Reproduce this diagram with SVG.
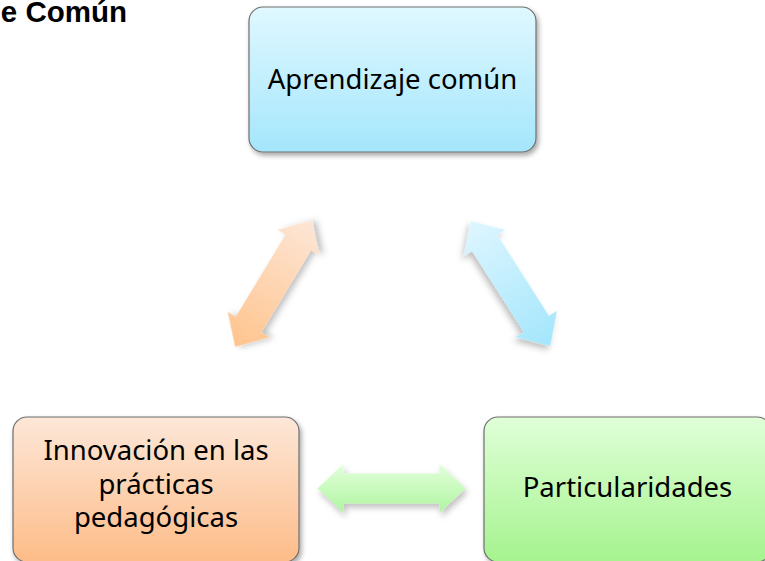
<svg xmlns="http://www.w3.org/2000/svg" width="765" height="561" viewBox="0 0 765 561">
  <style>
    .box { stroke: #6f6f6f; stroke-width: 1.2; filter: url(#shadow); }
    .lbl { font-family: "Noto Sans", "Open Sans", sans-serif; font-size: 27.5px; fill: #000; text-anchor: middle; }
    .arrow { filter: url(#ashadow); }
    .title { font-family: "Liberation Sans", Arial, sans-serif; font-weight: bold; font-size: 29.5px; fill: #000; text-anchor: end; }
  </style>
  <defs>
    <filter id="shadow" x="-10%" y="-10%" width="130%" height="130%">
      <feDropShadow dx="2" dy="3" stdDeviation="2.5" flood-color="#000" flood-opacity="0.35"/>
    </filter>
    <filter id="ashadow" x="-20%" y="-40%" width="140%" height="180%">
      <feDropShadow dx="2" dy="4" stdDeviation="3" flood-color="#000" flood-opacity="0.25"/>
    </filter>
    <linearGradient id="gBlue" x1="0" y1="0" x2="0" y2="1">
      <stop offset="0" stop-color="#e0f8ff"/>
      <stop offset="1" stop-color="#a4e6fc"/>
    </linearGradient>
    <linearGradient id="gOrange" x1="0" y1="0" x2="0" y2="1">
      <stop offset="0" stop-color="#fde7d8"/>
      <stop offset="1" stop-color="#fdbc88"/>
    </linearGradient>
    <linearGradient id="gGreen" x1="0" y1="0" x2="0" y2="1">
      <stop offset="0" stop-color="#e0ffd8"/>
      <stop offset="1" stop-color="#a5f38e"/>
    </linearGradient>
    <linearGradient id="aOrange" x1="0" y1="0" x2="1" y2="0">
      <stop offset="0" stop-color="#ffc48e"/>
      <stop offset="1" stop-color="#fde6d6"/>
    </linearGradient>
    <linearGradient id="aBlue" x1="0" y1="0" x2="1" y2="0">
      <stop offset="0" stop-color="#def6ff"/>
      <stop offset="1" stop-color="#a3e6fc"/>
    </linearGradient>
    <linearGradient id="aGreen" x1="0" y1="0" x2="0" y2="1">
      <stop offset="0" stop-color="#e2ffdb"/>
      <stop offset="1" stop-color="#b0f5a0"/>
    </linearGradient>
    <path id="dblArrow" d="M-74,0 L-48,-24.5 L-48,-15 L48,-15 L48,-24.5 L74,0 L48,24.5 L48,15 L-48,15 L-48,24.5 Z"/>
  </defs>

  <text class="title" x="127" y="22">e Común</text>

  <g id="connectors">
    <use href="#dblArrow" class="arrow" fill="url(#aOrange)" transform="translate(273.5,283.5) rotate(-58.8)"/>
    <use href="#dblArrow" class="arrow" fill="url(#aBlue)" transform="translate(510.5,283.5) rotate(57.5)"/>
    <use href="#dblArrow" class="arrow" fill="url(#aGreen)" transform="translate(391.5,488.5)"/>
  </g>

  <g id="node-aprendizaje">
    <rect class="box" x="249" y="7" width="287" height="145" rx="14" fill="url(#gBlue)"/>
    <text class="lbl" x="392.5" y="89">Aprendizaje común</text>
  </g>

  <g id="node-innovacion">
    <rect class="box" x="13" y="417" width="286" height="145" rx="14" fill="url(#gOrange)"/>
    <text class="lbl" x="156" y="460">Innovación en las</text>
    <text class="lbl" x="156" y="493.5">prácticas</text>
    <text class="lbl" x="156" y="527">pedagógicas</text>
  </g>

  <g id="node-particularidades">
    <rect class="box" x="484" y="417" width="287" height="145" rx="14" fill="url(#gGreen)"/>
    <text class="lbl" x="627.5" y="497">Particularidades</text>
  </g>
</svg>
